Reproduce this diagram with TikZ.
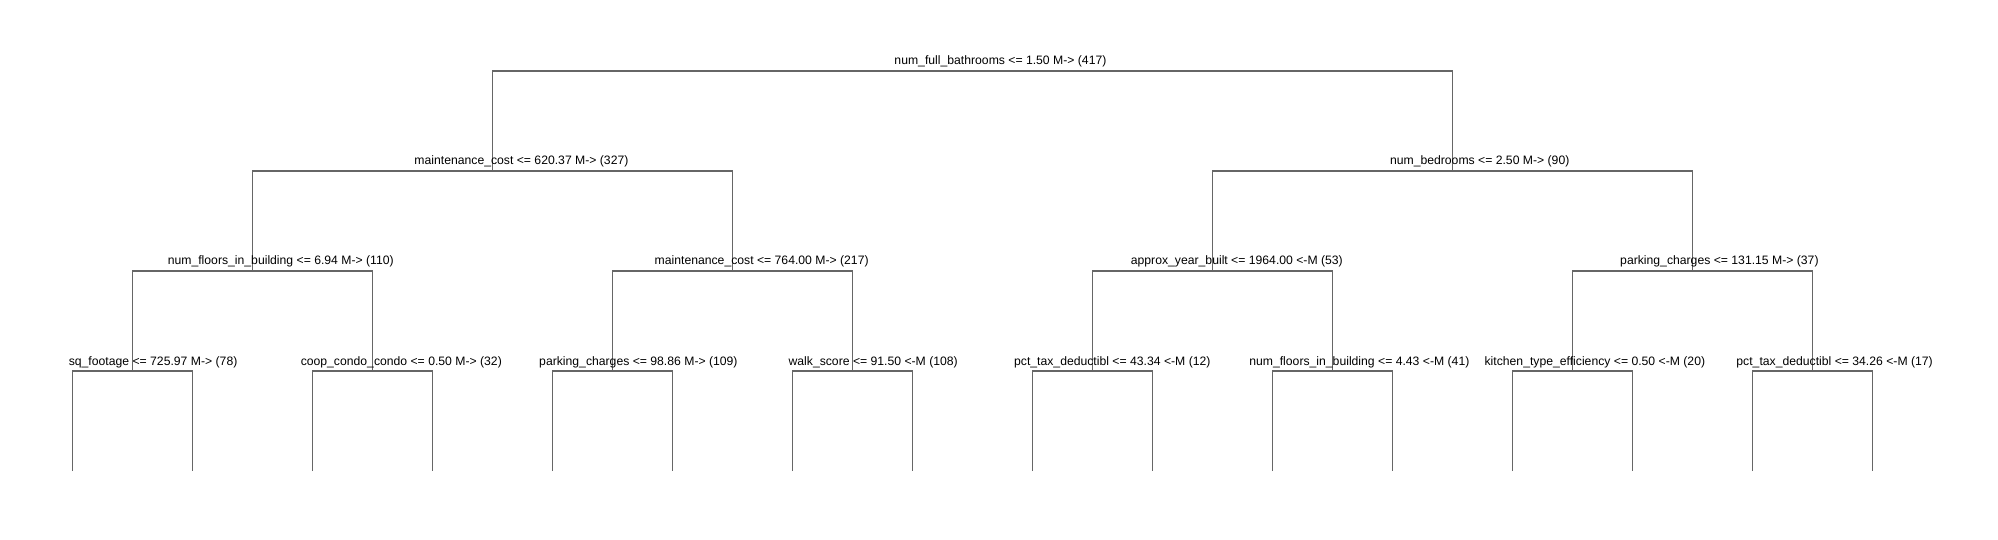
\documentclass[tikz,border=0pt]{standalone}
\usepackage{fontspec}
\setmainfont{Liberation Sans}
\begin{document}
\begin{tikzpicture}[x=1pt,y=-1pt,
  branch/.style={draw=black!60,line width=1.1pt},
  lbl/.style={anchor=base,inner sep=0pt,font=\fontsize{12.2}{14}\selectfont}]
\useasboundingbox (0,0) rectangle (1998,540);
% split points
\coordinate (n) at (972.6,71);
\coordinate (n0) at (492.5,171);
\coordinate (n1) at (1452.9,171);
\coordinate (n00) at (252.4,271);
\coordinate (n01) at (732.5,271);
\coordinate (n10) at (1212.7,271);
\coordinate (n11) at (1692.8,271);
\coordinate (n000) at (132.4,371);
\coordinate (n001) at (372.5,371);
\coordinate (n010) at (612.5,371);
\coordinate (n011) at (852.6,371);
\coordinate (n100) at (1092.6,371);
\coordinate (n101) at (1332.7,371);
\coordinate (n110) at (1572.8,371);
\coordinate (n111) at (1812.8,371);
% leaves
\foreach \i in {0,...,15} {\coordinate (l\i) at ({72.4+120.03*\i},471);}
% connectors
\draw[branch] (n0) |- (n) -| (n1);
\draw[branch] (n00) |- (n0) -| (n01);
\draw[branch] (n10) |- (n1) -| (n11);
\draw[branch] (n000) |- (n00) -| (n001);
\draw[branch] (n010) |- (n01) -| (n011);
\draw[branch] (n100) |- (n10) -| (n101);
\draw[branch] (n110) |- (n11) -| (n111);
\draw[branch] (l0) |- (n000) -| (l1);
\draw[branch] (l2) |- (n001) -| (l3);
\draw[branch] (l4) |- (n010) -| (l5);
\draw[branch] (l6) |- (n011) -| (l7);
\draw[branch] (l8) |- (n100) -| (l9);
\draw[branch] (l10) |- (n101) -| (l11);
\draw[branch] (l12) |- (n110) -| (l13);
\draw[branch] (l14) |- (n111) -| (l15);
% labels
\node[lbl] (tn) at (1000.45,65) {num\_full\_bathrooms <= 1.50 M-> (417)};
\node[lbl] (tn0) at (521.45,165) {maintenance\_cost <= 620.37 M-> (327)};
\node[lbl] (tn1) at (1479.7,165) {num\_bedrooms <= 2.50 M-> (90)};
\node[lbl] (tn00) at (280.8,265) {num\_floors\_in\_building <= 6.94 M-> (110)};
\node[lbl] (tn01) at (761.65,265) {maintenance\_cost <= 764.00 M-> (217)};
\node[lbl] (tn10) at (1236.85,265) {approx\_year\_built <= 1964.00 <-M (53)};
\node[lbl] (tn11) at (1719.4,265) {parking\_charges <= 131.15 M-> (37)};
\node[lbl] (tn000) at (153.1,365) {sq\_footage <= 725.97 M-> (78)};
\node[lbl] (tn001) at (401.3,365) {coop\_condo\_condo <= 0.50 M-> (32)};
\node[lbl] (tn010) at (638.4,365) {parking\_charges <= 98.86 M-> (109)};
\node[lbl] (tn011) at (873.2,365) {walk\_score <= 91.50 <-M (108)};
\node[lbl] (tn100) at (1112.3,365) {pct\_tax\_deductibl <= 43.34 <-M (12)};
\node[lbl] (tn101) at (1359.35,365) {num\_floors\_in\_building <= 4.43 <-M (41)};
\node[lbl] (tn110) at (1594.85,365) {kitchen\_type\_efficiency <= 0.50 <-M (20)};
\node[lbl] (tn111) at (1834.6,365) {pct\_tax\_deductibl <= 34.26 <-M (17)};
\end{tikzpicture}
\end{document}
